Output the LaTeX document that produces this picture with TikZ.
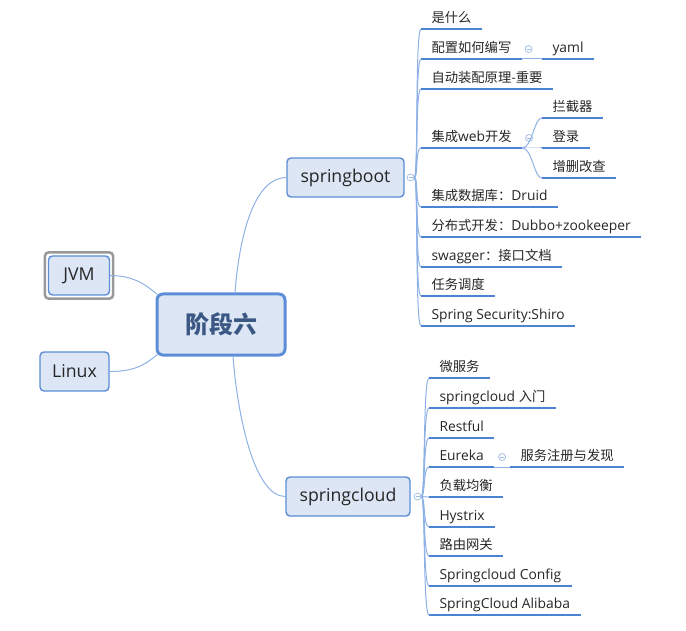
\documentclass[tikz,border=0pt]{standalone}
\usepackage{fontspec}
\setmainfont{Open Sans}[Scale=1.04]
\newfontfamily\zh{Noto Sans CJK SC}
\usetikzlibrary{calc, positioning}
\definecolor{boxfill}{HTML}{DCE6F4}
\definecolor{boxline}{HTML}{5C8DD6}
\definecolor{linkblue}{HTML}{8DB1E6}
\definecolor{ulblue}{HTML}{4D83D3}
\definecolor{foldline}{HTML}{9DB8E2}
\definecolor{coretext}{HTML}{3B5884}
\definecolor{txt}{HTML}{262626}
\tikzstyle{topic} = [rectangle, rounded corners=4pt, draw=boxline, line width=1.4pt, fill=boxfill, text=txt, inner sep=0pt, minimum height=39pt, font=\fontsize{17pt}{20pt}\selectfont]
\tikzstyle{core} = [rectangle, rounded corners=6pt, draw=boxline, line width=3pt, fill=boxfill, text=coretext, inner sep=0pt, minimum width=128pt, minimum height=61pt, font=\fontsize{24pt}{28pt}\zh\bfseries]
\tikzstyle{selframe} = [draw=black!40, line width=2.5pt, rounded corners=4pt]
\tikzstyle{leaf} = [anchor=south west, inner xsep=10.5pt, inner ysep=3.5pt, outer sep=0pt, text height=10pt, text depth=3pt, text=txt, font=\fontsize{13.3pt}{16pt}\selectfont]
\tikzstyle{uline} = [draw=ulblue, line width=2pt]
\tikzstyle{branch} = [draw=linkblue, line width=1pt]
\tikzstyle{foldmark} = [circle, draw=foldline, fill=white, line width=0.7pt, minimum size=7pt, inner sep=0pt, path picture={\draw[foldline, line width=0.7pt] ([xshift=-2pt]path picture bounding box.center) -- ([xshift=2pt]path picture bounding box.center);}]
\begin{document}
\begin{tikzpicture}[x=1pt, y=-1pt]
		\useasboundingbox (0,0) rectangle (686,631);
		% central topic and side topics
		\node (Core) [core] at (221,324.5) {阶段六};
		\node (JVM) [topic, minimum width=61pt] at (79,275.5) {JVM};
		\node (Linux) [topic, minimum width=69pt] at (74.5,371.5) {Linux};
		\draw [selframe] ($(JVM.south west)+(-3,3)$) rectangle ($(JVM.north east)+(3,-3)$);
		\node (SpringBoot) [topic, minimum width=117pt] at (345.5,177.5) {springboot};
		\node (SpringCloud) [topic, minimum width=124pt] at (348,496.5) {springcloud};
		\node (SBFold) [foldmark, right=2pt of SpringBoot] {};
		\node (SCFold) [foldmark, right=3pt of SpringCloud] {};
		\draw [branch] ($(Core.north)+(14,0)$) .. controls +(5,-64) and +(-30,0) .. (SpringBoot.west);
		\draw [branch] ($(Core.south)+(12,0)$) .. controls +(5,64) and +(-30,0) .. (SpringCloud.west);
		\draw [branch] (JVM.east) .. controls +(25,0) and +(-10,-8) .. ($(Core.north west)+(2,2)$);
		\draw [branch] (Linux.east) .. controls +(28,0) and +(-10,8) .. ($(Core.south west)+(2,-2)$);
		% springboot leaves
		\node (sb1) [leaf] at (421,29) {\zh 是什么};
		\node (sb2) [leaf] at (421,59) {\zh 配置如何编写};
		\node (sb3) [leaf] at (421,89) {\zh 自动装配原理-重要};
		\node (sb4) [leaf] at (421,148) {{\zh 集成}web{\zh 开发}};
		\node (sb5) [leaf] at (421,207) {{\zh 集成数据库：}Druid};
		\node (sb6) [leaf] at (421,237) {{\zh 分布式开发：}Dubbo+zookeeper};
		\node (sb7) [leaf] at (421,267) {swagger{\zh ：接口文档}};
		\node (sb8) [leaf] at (421,296) {\zh 任务调度};
		\node (sb9) [leaf] at (421,326) {Spring Security:Shiro};
		\node (Yaml) [leaf] at (542,59) {yaml};
		\node (Web1) [leaf] at (542,118) {\zh 拦截器};
		\node (Web2) [leaf] at (542,148) {\zh 登录};
		\node (Web3) [leaf] at (542,178) {\zh 增删改查};
		\node (SB2Fold) [foldmark, right=3pt of sb2] {};
		\node (SB4Fold) [foldmark, right=3pt of sb4] {};
		% springcloud leaves
		\node (sc1) [leaf] at (429,378) {\zh 微服务};
		\node (sc2) [leaf] at (429,408) {springcloud {\zh 入门}};
		\node (sc3) [leaf] at (429,438) {Restful};
		\node (sc4) [leaf] at (429,467) {Eureka};
		\node (sc5) [leaf] at (429,497) {\zh 负载均衡};
		\node (sc6) [leaf] at (429,527) {Hystrix};
		\node (sc7) [leaf] at (429,556) {\zh 路由网关};
		\node (sc8) [leaf] at (429,586) {Springcloud Config};
		\node (sc9) [leaf] at (429,615) {SpringCloud Alibaba};
		\node (Eureka1) [leaf] at (510,467) {\zh 服务注册与发现};
		\node (SC4Fold) [foldmark, right=4pt of sc4] {};
		% connectors to the leaves
		\foreach \n in {sb1,sb2,sb3,sb4,sb5,sb6,sb7,sb8,sb9}
			\draw [branch] (SBFold.east) .. controls +(4,0) and +(-6,0) .. (\n.south west);
		\foreach \n in {sc1,sc2,sc3,sc4,sc5,sc6,sc7,sc8,sc9}
			\draw [branch] (SCFold.east) .. controls +(4,0) and +(-6,0) .. (\n.south west);
		\draw [branch] (sb2.south east) -- (Yaml.south west);
		\foreach \n in {Web1,Web2,Web3}
			\draw [branch] (sb4.south east) .. controls +(10,0) and +(-8,0) .. (\n.south west);
		\draw [branch] (sc4.south east) -- (Eureka1.south west);
		% underlines
		\foreach \n in {sb1,sb2,sb3,sb4,sb5,sb6,sb7,sb8,sb9,Yaml,Web1,Web2,Web3,sc1,sc2,sc3,sc4,sc5,sc6,sc7,sc8,sc9,Eureka1}
			\draw [uline] (\n.south west) -- (\n.south east);
	\end{tikzpicture}
\end{document}
